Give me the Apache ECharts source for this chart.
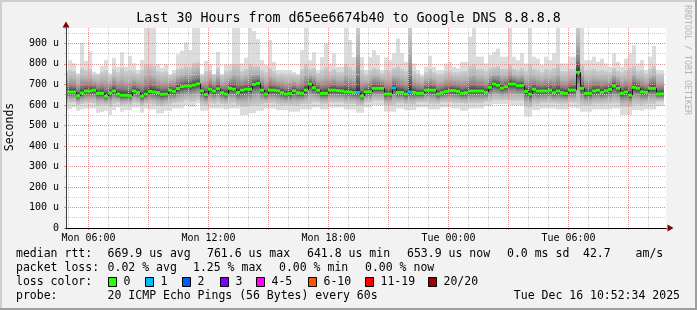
<!DOCTYPE html>
<html><head><meta charset="utf-8">
<script src="https://cdn.jsdelivr.net/npm/echarts@6/dist/echarts.min.js"></script>
<style>html,body{margin:0;padding:0;background:#f2f2f2}#c{width:697px;height:310px}</style>
</head><body><div id="c"></div>
<script>
const chartTitle = 'Last 30 Hours from d65ee6674b40 to Google DNS 8.8.8.8';
const dayNames = ['Mon', 'Tue'];
// time in hours after Mon 00:00
const viewStart = 4.876, viewEnd = 34.876;
const firstColumnStart = 4.8;   // Mon 04:48
const columnHours = 0.2;        // 12-minute consolidated columns
const yMax = 975;

const median = [
 663,663,663,644,658,668,668,672,657,657,
 642,659,668,653,647,647,644,668,661,642,
 653,666,663,660,652,653,672,666,680,689,
 692,692,697,703,669,651,677,668,679,660,
 653,681,677,661,672,677,677,700,705,672,
 653,672,672,669,660,653,655,669,660,657,
 672,702,684,672,657,657,672,672,670,668,
 664,663,660,661,643,664,664,681,681,681,
 653,653,683,661,661,653,663,661,657,657,
 672,672,672,653,660,666,670,670,666,657,
 660,668,668,668,668,661,686,702,696,682,
 689,702,702,694,694,666,653,677,668,668,
 668,672,660,668,660,656,672,672,759,681,
 657,657,668,672,661,669,676,692,681,657,
 663,648,686,681,664,661,681,681,653,654];
const lossCount = [
 0,0,0,0,0,0,0,0,0,0, 0,0,0,0,0,0,0,0,0,0,
 0,0,0,0,0,0,0,0,0,0, 0,0,0,0,0,0,0,0,0,0,
 0,0,0,0,0,0,0,0,0,0, 0,0,0,0,0,0,0,0,0,0,
 0,0,0,0,0,0,0,0,0,0, 0,0,0,1,0,0,0,0,0,0,
 0,0,1,0,0,0,1,0,0,0, 0,0,0,0,0,0,0,0,0,0,
 0,0,0,0,0,0,0,0,0,0, 0,0,0,0,0,0,0,0,0,0,
 0,0,0,0,0,0,0,0,0,0, 0,0,0,0,0,0,0,0,0,0,
 0,0,0,0,0,0,0,0,0,0];
const pingMax = [
 770,818,803,754,903,814,862,762,754,789,
 818,754,830,786,857,786,840,803,770,818,
 990,990,990,800,781,800,750,770,846,864,
 905,868,990,990,750,814,800,750,859,750,
 797,800,990,990,802,830,990,960,920,818,
 794,916,810,770,770,770,770,760,750,867,
 990,818,857,770,833,900,802,852,786,786,
 990,916,833,990,833,770,833,867,843,770,
 833,818,852,924,852,810,990,802,770,745,
 786,840,786,770,770,802,810,786,778,810,
 810,932,990,835,835,802,843,859,875,835,
 835,990,835,818,852,802,990,835,826,794,
 835,818,852,990,802,802,835,835,990,990,
 818,818,835,810,826,802,786,852,810,786,
 826,852,891,802,818,770,835,887,770,770];
const pingUpper = [
 760,770,765,745,780,770,775,750,748,762,
 770,745,775,760,780,765,770,765,755,770,
 800,800,790,765,760,765,745,755,775,780,
 790,785,805,810,745,765,770,750,780,745,
 765,770,800,800,765,775,800,790,790,770,
 760,780,765,750,755,750,752,748,745,775,
 800,775,780,755,770,785,765,775,760,762,
 800,785,770,990,770,750,770,780,775,755,
 770,765,780,790,775,765,990,765,752,740,
 760,775,760,752,752,765,768,760,758,765,
 765,790,800,775,775,765,780,785,790,775,
 775,800,775,770,780,765,800,775,770,760,
 775,770,780,800,765,765,775,775,990,800,
 770,770,775,765,770,765,760,780,765,760,
 770,780,790,765,770,752,775,790,752,752];
const pingLower = [
 605,610,612,600,605,608,610,608,598,600,
 600,590,605,610,598,602,600,610,608,595,
 605,605,602,595,592,600,600,608,610,612,
 620,615,615,622,600,598,608,605,610,605,
 602,605,608,600,590,590,595,598,600,602,
 608,608,608,602,600,600,598,598,598,605,
 605,605,612,612,605,605,612,612,612,612,
 605,605,605,595,598,612,612,620,620,620,
 598,598,600,608,608,602,602,602,612,612,
 612,605,605,605,612,612,612,608,608,608,
 605,608,608,608,608,615,615,622,622,622,
 622,620,620,620,620,590,585,602,602,608,
 608,608,608,605,605,605,612,612,608,598,
 598,598,605,605,605,605,605,608,608,590,
 590,590,602,602,600,605,605,605,615,615];
const pingMin = [
 575,580,588,572,578,583,583,583,562,565,
 572,551,575,588,567,575,575,588,588,562,
 583,578,578,559,559,572,572,583,583,583,
 600,591,591,608,572,572,583,583,583,583,
 578,583,583,583,551,551,559,559,572,572,
 583,583,583,575,575,575,567,567,567,578,
 578,578,588,588,578,578,588,588,588,588,
 578,578,578,562,562,588,588,600,600,600,
 567,567,567,583,583,575,575,575,588,588,
 588,578,578,578,588,588,588,583,583,572,
 572,583,583,583,583,594,594,604,604,604,
 604,600,600,600,600,543,543,575,575,583,
 583,583,583,578,578,578,588,588,583,567,
 567,567,578,578,578,578,578,583,583,551,
 551,551,575,575,572,578,578,578,594,594];

const rttStats = ['669.9 us avg', '761.6 us max', '641.8 us min', '653.9 us now', '0.0 ms sd', '42.7', 'am/s'];
const lossStats = ['0.02 % avg', '1.25 % max', '0.00 % min', '0.00 % now'];
const lossLabels = ['0', '1', '2', '3', '4-5', '6-10', '11-19', '20/20'];
const lossColors = ['#26ff00', '#00b8ff', '#0059ff', '#7e00ff', '#ff00ff', '#ff5500', '#ff0000', '#a10000'];
const probeText = '20 ICMP Echo Pings (56 Bytes) every 60s';
const stampText = 'Tue Dec 16 10:52:34 2025';

function lossIndex(n) {
  if (n <= 3) return n;
  if (n <= 5) return 4;
  if (n <= 10) return 5;
  if (n <= 19) return 6;
  return 7;
}

const smokeData = median.map((m, k) => {
  const t0 = firstColumnStart + k * columnHours;
  return [t0, t0 + columnHours, pingMin[k], pingLower[k], m, pingUpper[k], pingMax[k]];
});
const medianData = median.map((m, k) => {
  const t0 = firstColumnStart + k * columnHours;
  return [t0, t0 + columnHours, m, lossCount[k]];
});

const G = echarts.graphic;
function renderSmoke(params, api) {
  const t0 = api.value(0), t1 = api.value(1);
  const x0 = Math.round(api.coord([t0, 0])[0]);
  const x1 = Math.round(api.coord([t1, 0])[0]);
  const w = x1 - x0;
  const y = v => api.coord([t0, v])[1];
  const yLo = y(api.value(2)), yDn = y(api.value(3)), yMed = y(api.value(4)), yUp = y(api.value(5)), yHi = y(api.value(6));
  return {
    type: 'group',
    children: [
      {type: 'rect', shape: {x: x0, y: yHi, width: w, height: yLo - yHi}, style: {fill: '#dcdcdc'}},
      {type: 'rect', shape: {x: x0, y: yUp, width: w, height: yMed - yUp}, style: {fill: new G.LinearGradient(0, 0, 0, 1, [
        {offset: 0, color: '#cdcdcd'}, {offset: 0.4, color: '#b2b2b2'}, {offset: 0.75, color: '#808080'},
        {offset: 0.92, color: '#4c4c4c'}, {offset: 1, color: '#1e1e1e'}])}},
      {type: 'rect', shape: {x: x0, y: yMed, width: w, height: yDn - yMed}, style: {fill: new G.LinearGradient(0, 0, 0, 1, [
        {offset: 0, color: '#1e1e1e'}, {offset: 0.1, color: '#4c4c4c'}, {offset: 0.3, color: '#808080'},
        {offset: 0.65, color: '#b2b2b2'}, {offset: 1, color: '#cdcdcd'}])}}
    ]
  };
}
function renderMedian(params, api) {
  const k = params.dataIndex;
  const t0 = api.value(0), t1 = api.value(1), m = api.value(2), loss = api.value(3);
  const x0 = Math.round(api.coord([t0, m])[0]);
  const x1 = Math.round(api.coord([t1, m])[0]);
  const ym = api.coord([t0, m])[1];
  const children = [];
  if (k > 0) {
    const yp = api.coord([t0, median[k - 1]])[1];
    children.push({type: 'line', shape: {x1: x0 + 0.5, y1: yp, x2: x0 + 0.5, y2: ym}, style: {stroke: '#1a1a1a', lineWidth: 1}});
  }
  children.push({type: 'rect', shape: {x: x0, y: ym - 1.5, width: x1 - x0, height: 3}, style: {fill: lossColors[lossIndex(loss)]}});
  return {type: 'group', children};
}

const FONT = 'DejaVu Sans Mono';
const minorColor = '#cccccc';
const majorColor = 'rgba(230,80,80,0.45)';

function xLabel(v) {
  const h = Math.round(v);
  if (Math.abs(v - h) > 1e-6 || h % 6 !== 0) return '';
  return dayNames[Math.floor(h / 24)] + ' ' + String(h % 24).padStart(2, '0') + ':00';
}

const xBase = {type: 'value', min: viewStart, max: viewEnd, position: 'bottom', gridIndex: 0};
const yBase = {type: 'value', min: 0, max: yMax, position: 'left', gridIndex: 0};
const off = {show: false};

// legend graphics
const legendFont = '11.5px "' + FONT + '"';
const rows = [254, 268, 282, 296];
const gfx = [];
function txt(x, y, s, align) {
  gfx.push({type: 'text', x: x, y: y, silent: true, style: {text: s, font: legendFont, fill: '#000', textAlign: align || 'left', textVerticalAlign: 'middle', verticalAlign: 'middle'}});
}
txt(16, rows[0], 'median rtt:');
[107.6, 207, 307, 407, 507, 583, 635.6].forEach((x, i) => txt(x, rows[0], rttStats[i]));
txt(16, rows[1], 'packet loss:');
[107.6, 193, 279, 365].forEach((x, i) => txt(x, rows[1], lossStats[i]));
txt(16, rows[2], 'loss color:');
const boxX = [108, 145.3, 182, 219.6, 256.4, 307.6, 365.3, 427.6];
boxX.forEach((x, i) => {
  gfx.push({type: 'rect', silent: true, shape: {x: Math.round(x) + 0.5, y: rows[2] - 4.5, width: 8, height: 9}, style: {fill: lossColors[i], stroke: '#000', lineWidth: 1}});
  txt(Math.round(x) + 15.5, rows[2], lossLabels[i]);
});
txt(16, rows[3], 'probe:');
txt(107.6, rows[3], probeText);
txt(680, rows[3], stampText, 'right');
gfx.push({type: 'text', x: 10, y: 127, rotation: Math.PI / 2, silent: true, style: {text: 'Seconds', font: legendFont, fill: '#000', textAlign: 'center', textVerticalAlign: 'middle', verticalAlign: 'middle'}});
gfx.push({type: 'text', x: 687, y: 5, rotation: -Math.PI / 2, silent: true, style: {text: 'RRDTOOL / TOBI OETIKER', font: '8.3px "' + FONT + '"', fill: '#b4b4b4', textAlign: 'left', textVerticalAlign: 'middle', verticalAlign: 'middle'}});
// frame shading
gfx.push({type: 'rect', silent: true, shape: {x: 0, y: 0, width: 697, height: 2}, style: {fill: '#cfcfcf'}});
gfx.push({type: 'rect', silent: true, shape: {x: 0, y: 0, width: 2, height: 310}, style: {fill: '#cfcfcf'}});
gfx.push({type: 'rect', silent: true, shape: {x: 0, y: 308, width: 697, height: 2}, style: {fill: '#9e9e9e'}});
gfx.push({type: 'rect', silent: true, shape: {x: 695, y: 0, width: 2, height: 310}, style: {fill: '#9e9e9e'}});

const chart = echarts.init(document.getElementById('c'), null, {renderer: 'canvas'});
chart.setOption({
  animation: false,
  backgroundColor: '#f2f2f2',
  title: {text: chartTitle, left: 'center', top: 12, padding: 0,
    textStyle: {fontFamily: FONT, fontSize: 13.3, fontWeight: 'normal', color: '#000'}},
  grid: {left: 66, top: 28, width: 600, height: 200, show: true, backgroundColor: '#ffffff', borderWidth: 0, containLabel: false},
  xAxis: [
    Object.assign({}, xBase, {splitNumber: 30, z: 2, axisLine: off,
      axisTick: {show: true, length: 2, lineStyle: {color: minorColor}},
      axisLabel: {show: true, formatter: xLabel, fontFamily: FONT, fontSize: 10, color: '#000', margin: 5, showMinLabel: false, showMaxLabel: false},
      splitLine: {show: true, showMinLine: false, showMaxLine: false, lineStyle: {color: minorColor, width: 1, type: [1, 1]}}}),
    Object.assign({}, xBase, {splitNumber: 10, z: 3, axisLine: off, axisLabel: off,
      axisTick: {show: true, length: 2, lineStyle: {color: majorColor}},
      splitLine: {show: true, showMinLine: false, showMaxLine: false, lineStyle: {color: majorColor, width: 1, type: [1, 1]}}}),
    Object.assign({}, xBase, {z: 5, axisTick: off, axisLabel: off, splitLine: off,
      axisLine: {show: true, symbol: ['none', 'triangle'], symbolSize: [7, 6], symbolOffset: [0, 4.5], lineStyle: {color: '#800000', width: 1}}}),
    Object.assign({}, xBase, {z: 6, axisTick: off, axisLabel: off, splitLine: off,
      axisLine: {show: true, lineStyle: {color: '#000', width: 1}}})
  ],
  yAxis: [
    Object.assign({}, yBase, {interval: 50, z: 2, axisLine: off, axisLabel: off,
      axisTick: {show: true, length: 2, lineStyle: {color: minorColor}},
      splitLine: {show: true, showMinLine: false, showMaxLine: false, lineStyle: {color: minorColor, width: 1, type: [1, 1]}}}),
    Object.assign({}, yBase, {interval: 100, z: 3, axisLine: off,
      axisTick: {show: true, length: 2, lineStyle: {color: majorColor}},
      axisLabel: {show: true, fontFamily: FONT, fontSize: 10, color: '#000', margin: 7, showMaxLabel: false,
        formatter: v => v === 0 ? '0' : v + ' u'},
      splitLine: {show: true, showMinLine: false, showMaxLine: false, lineStyle: {color: majorColor, width: 1, type: [1, 1]}}}),
    Object.assign({}, yBase, {z: 5, axisTick: off, axisLabel: off, splitLine: off,
      axisLine: {show: true, symbol: ['none', 'triangle'], symbolSize: [7, 6], symbolOffset: [0, 3.5], lineStyle: {color: '#800000', width: 1}}}),
    Object.assign({}, yBase, {z: 6, axisTick: off, axisLabel: off, splitLine: off,
      axisLine: {show: true, lineStyle: {color: '#404040', width: 1}}})
  ],
  series: [
    {type: 'custom', name: 'smoke', xAxisIndex: 0, yAxisIndex: 0, z: 1, clip: true, silent: true,
      renderItem: renderSmoke, encode: {x: [0, 1], y: [2, 6]}, data: smokeData},
    {type: 'custom', name: 'median', xAxisIndex: 0, yAxisIndex: 0, z: 4, clip: true, silent: true,
      renderItem: renderMedian, encode: {x: [0, 1], y: 2}, data: medianData}
  ],
  graphic: gfx
});
</script>
</body></html>
